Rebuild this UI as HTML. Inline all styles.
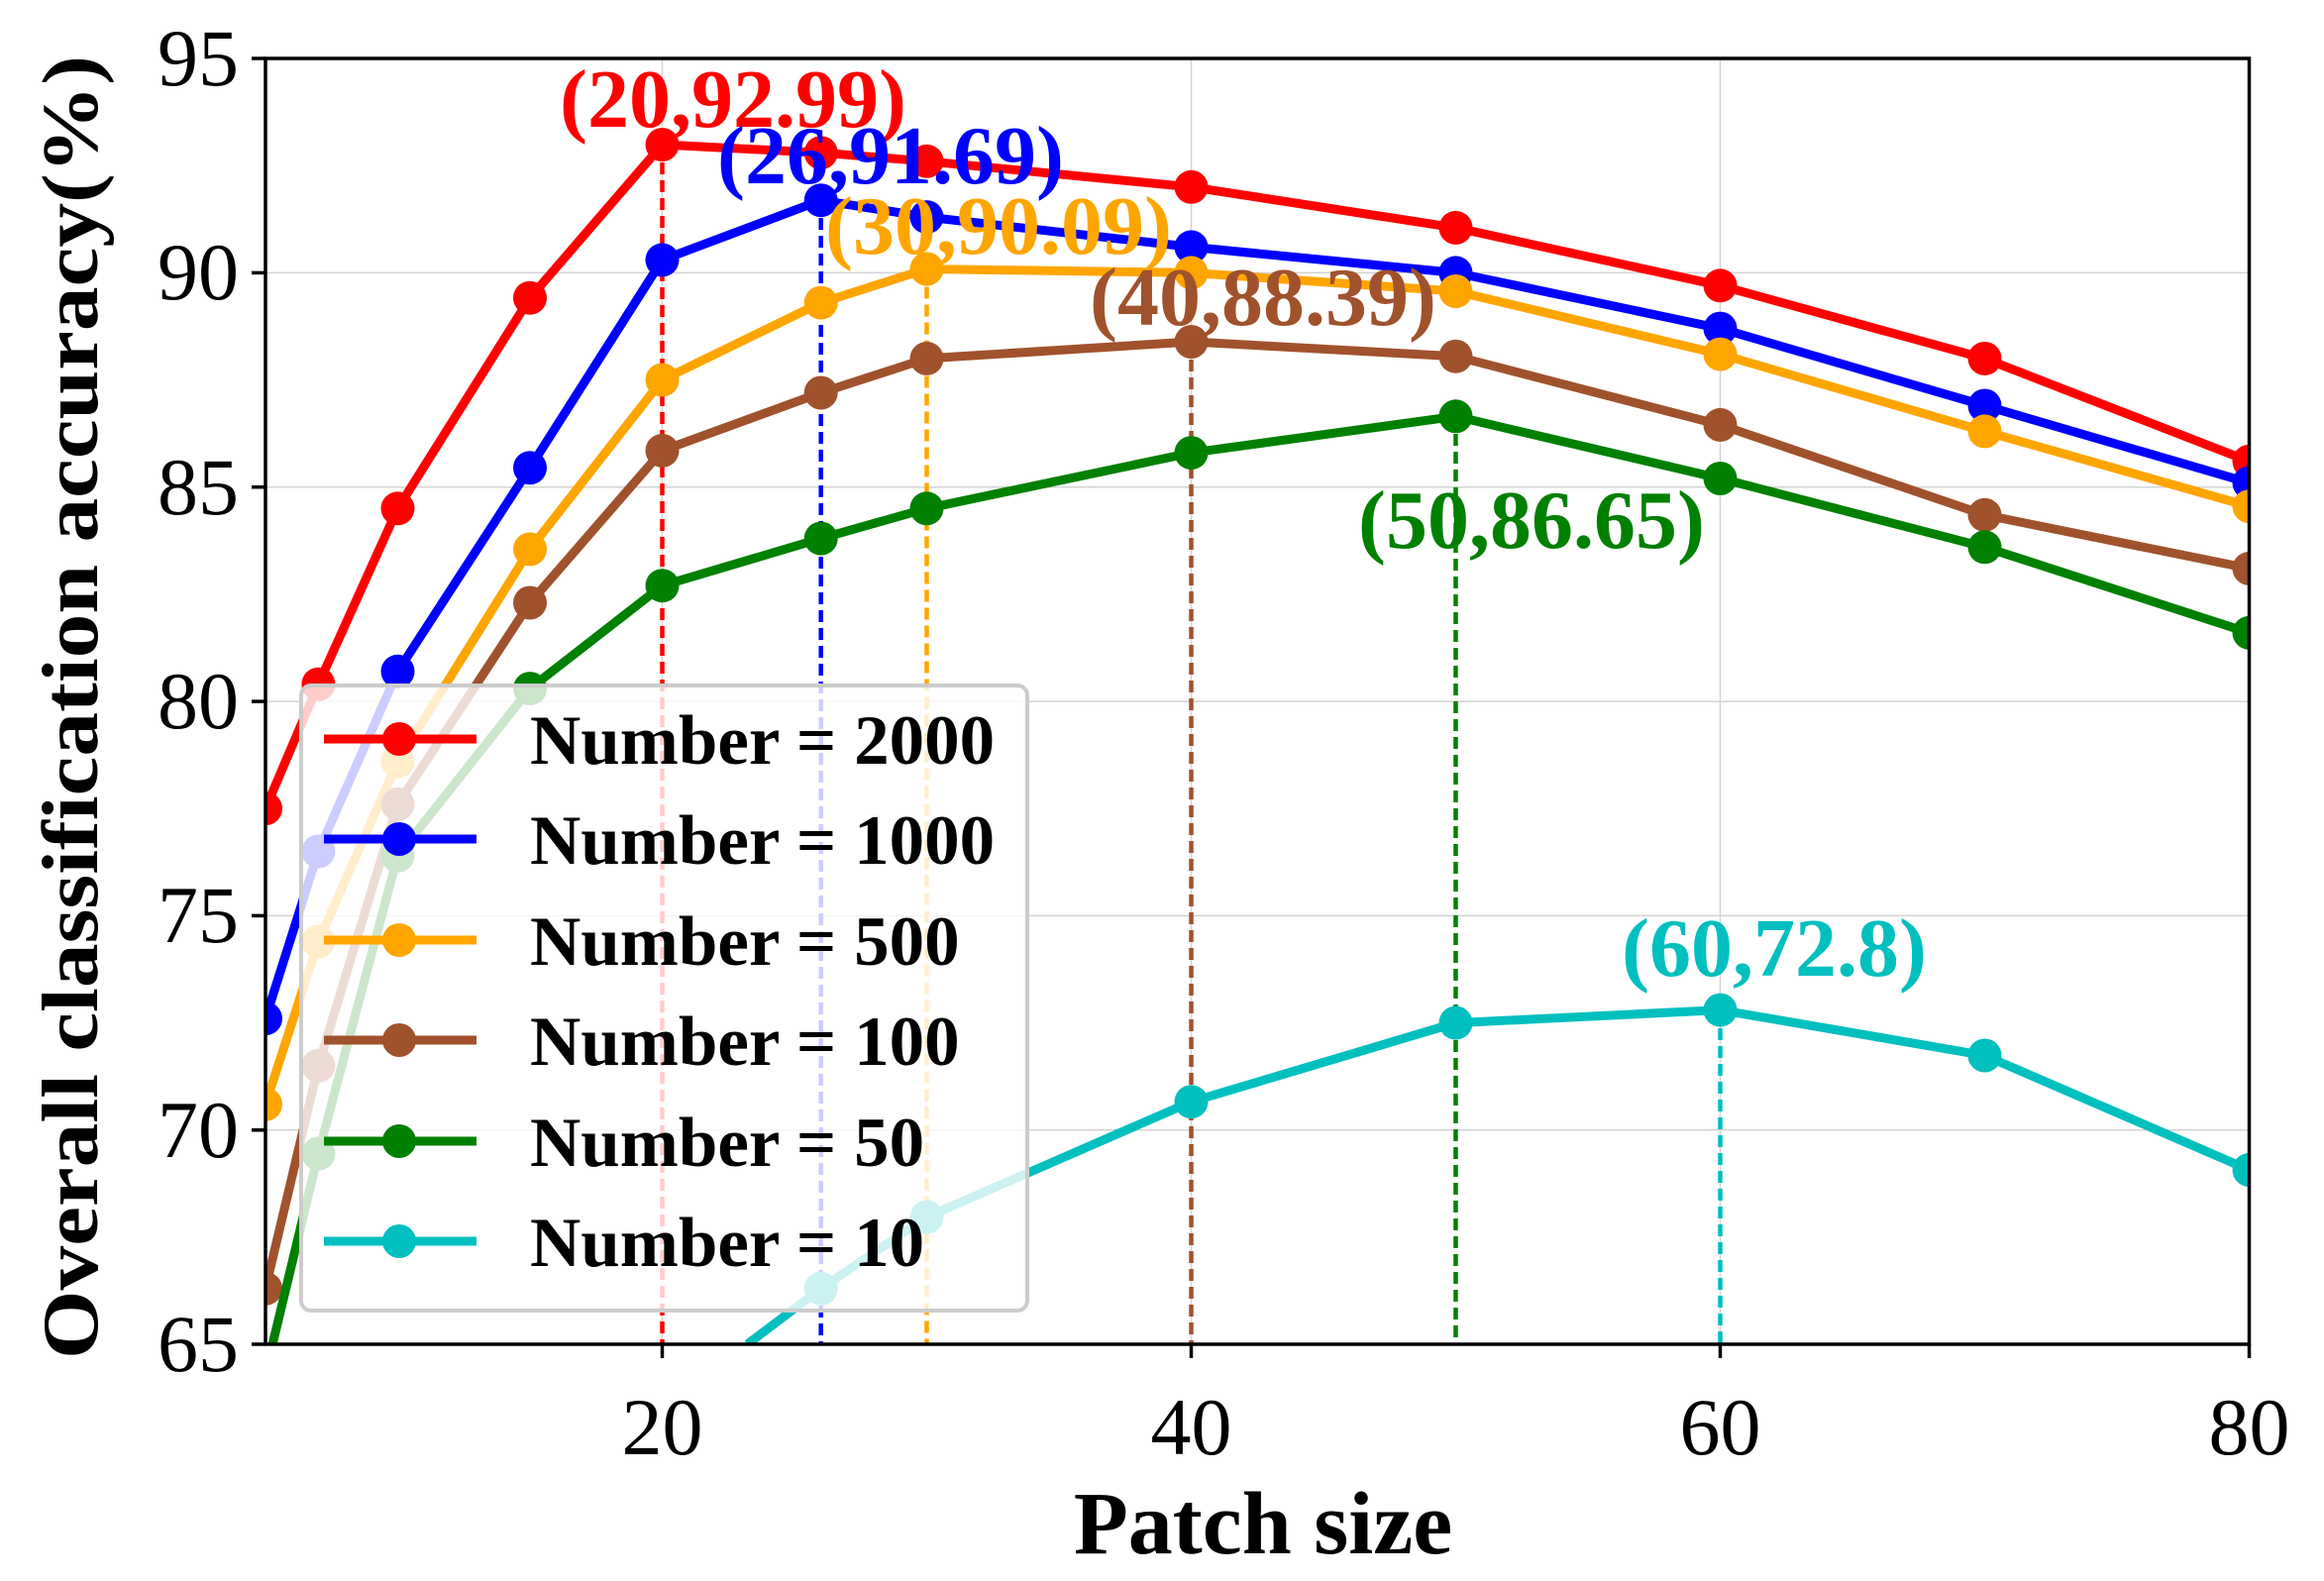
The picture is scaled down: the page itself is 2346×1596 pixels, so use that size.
<!DOCTYPE html>
<html><head><meta charset="utf-8"><style>html,body{margin:0;padding:0;background:#fff;overflow:hidden;width:2346px;height:1596px}svg{display:block}</style></head>
<body>
<svg width="2346" height="1596" viewBox="0 0 2346 1596" xmlns="http://www.w3.org/2000/svg" font-family="'Liberation Serif', serif">
<defs><clipPath id="c"><rect x="268" y="59" width="2002.5" height="1298"/></clipPath></defs>
<rect width="2346" height="1596" fill="#fff"/>
<g stroke="#d3d3d3" stroke-width="1.5">
<line x1="268" x2="2270.5" y1="275.4" y2="275.4"/><line x1="268" x2="2270.5" y1="491.7" y2="491.7"/><line x1="268" x2="2270.5" y1="708.1" y2="708.1"/><line x1="268" x2="2270.5" y1="924.4" y2="924.4"/><line x1="268" x2="2270.5" y1="1140.8" y2="1140.8"/>
<line y1="59" y2="1357" x1="668.5" x2="668.5"/><line y1="59" y2="1357" x1="1202.5" x2="1202.5"/><line y1="59" y2="1357" x1="1736.5" x2="1736.5"/>
</g>
<g stroke-width="4.5" stroke-dasharray="12,6" fill="none">
<line x1="668.5" x2="668.5" y1="146" y2="1357" stroke="red"/>
<line x1="828.7" x2="828.7" y1="202" y2="1357" stroke="blue"/>
<line x1="935.5" x2="935.5" y1="271.5" y2="1357" stroke="orange"/>
<line x1="1202.5" x2="1202.5" y1="345" y2="1357" stroke="#a0522d"/>
<line x1="1469.5" x2="1469.5" y1="420" y2="1357" stroke="green"/>
<line x1="1736.5" x2="1736.5" y1="1020" y2="1357" stroke="#00bfbf"/>
</g>
<g clip-path="url(#c)" fill="none" stroke-width="9" stroke-linejoin="round">
<g stroke="red" fill="red"><polyline fill="none" points="268,816.2 321.4,690.7 401.5,513.3 535,300.7 668.5,146 828.7,154.2 935.5,162.8 1202.5,188.8 1469.5,229.9 1736.5,288.3 2003.5,361.9 2270.5,465.7"/>
<g stroke="none"><circle cx="268" cy="816.2" r="17"/><circle cx="321.4" cy="690.7" r="17"/><circle cx="401.5" cy="513.3" r="17"/><circle cx="535" cy="300.7" r="17"/><circle cx="668.5" cy="146" r="17"/><circle cx="828.7" cy="154.2" r="17"/><circle cx="935.5" cy="162.8" r="17"/><circle cx="1202.5" cy="188.8" r="17"/><circle cx="1469.5" cy="229.9" r="17"/><circle cx="1736.5" cy="288.3" r="17"/><circle cx="2003.5" cy="361.9" r="17"/><circle cx="2270.5" cy="465.7" r="17"/></g></g>
<g stroke="blue" fill="blue"><polyline fill="none" points="268,1028.2 321.4,859.5 401.5,677.8 535,472.2 668.5,262.4 828.7,202.2 935.5,219.1 1202.5,249.4 1469.5,275.4 1736.5,331.6 2003.5,409.5 2270.5,487.4"/>
<g stroke="none"><circle cx="268" cy="1028.2" r="17"/><circle cx="321.4" cy="859.5" r="17"/><circle cx="401.5" cy="677.8" r="17"/><circle cx="535" cy="472.2" r="17"/><circle cx="668.5" cy="262.4" r="17"/><circle cx="828.7" cy="202.2" r="17"/><circle cx="935.5" cy="219.1" r="17"/><circle cx="1202.5" cy="249.4" r="17"/><circle cx="1469.5" cy="275.4" r="17"/><circle cx="1736.5" cy="331.6" r="17"/><circle cx="2003.5" cy="409.5" r="17"/><circle cx="2270.5" cy="487.4" r="17"/></g></g>
<g stroke="orange" fill="orange"><polyline fill="none" points="268,1114.8 321.4,950.4 401.5,768.6 535,554.4 668.5,383.5 828.7,305.6 935.5,271.5 1202.5,275.4 1469.5,294 1736.5,357.6 2003.5,435.4 2270.5,511.2"/>
<g stroke="none"><circle cx="268" cy="1114.8" r="17"/><circle cx="321.4" cy="950.4" r="17"/><circle cx="401.5" cy="768.6" r="17"/><circle cx="535" cy="554.4" r="17"/><circle cx="668.5" cy="383.5" r="17"/><circle cx="828.7" cy="305.6" r="17"/><circle cx="935.5" cy="271.5" r="17"/><circle cx="1202.5" cy="275.4" r="17"/><circle cx="1469.5" cy="294" r="17"/><circle cx="1736.5" cy="357.6" r="17"/><circle cx="2003.5" cy="435.4" r="17"/><circle cx="2270.5" cy="511.2" r="17"/></g></g>
<g stroke="#a0522d" fill="#a0522d"><polyline fill="none" points="268,1300.8 321.4,1075.8 401.5,811.9 535,608.5 668.5,454.9 828.7,396.5 935.5,361.9 1202.5,345 1469.5,359.7 1736.5,428.9 2003.5,519.8 2270.5,573.9"/>
<g stroke="none"><circle cx="268" cy="1300.8" r="17"/><circle cx="321.4" cy="1075.8" r="17"/><circle cx="401.5" cy="811.9" r="17"/><circle cx="535" cy="608.5" r="17"/><circle cx="668.5" cy="454.9" r="17"/><circle cx="828.7" cy="396.5" r="17"/><circle cx="935.5" cy="361.9" r="17"/><circle cx="1202.5" cy="345" r="17"/><circle cx="1469.5" cy="359.7" r="17"/><circle cx="1736.5" cy="428.9" r="17"/><circle cx="2003.5" cy="519.8" r="17"/><circle cx="2270.5" cy="573.9" r="17"/></g></g>
<g stroke="green" fill="green"><polyline fill="none" points="275.1,1357 321.4,1164.6 401.5,863.8 535,695.1 668.5,591.2 828.7,543.6 935.5,513.3 1202.5,457.1 1469.5,420.3 1736.5,483 2003.5,552.3 2270.5,638.8"/>
<g stroke="none"><circle cx="321.4" cy="1164.6" r="17"/><circle cx="401.5" cy="863.8" r="17"/><circle cx="535" cy="695.1" r="17"/><circle cx="668.5" cy="591.2" r="17"/><circle cx="828.7" cy="543.6" r="17"/><circle cx="935.5" cy="513.3" r="17"/><circle cx="1202.5" cy="457.1" r="17"/><circle cx="1469.5" cy="420.3" r="17"/><circle cx="1736.5" cy="483" r="17"/><circle cx="2003.5" cy="552.3" r="17"/><circle cx="2270.5" cy="638.8" r="17"/></g></g>
<g stroke="#00bfbf" fill="#00bfbf"><polyline fill="none" points="754.4,1357 828.7,1300.8 935.5,1228.6 1202.5,1112.2 1469.5,1032.6 1736.5,1019.6 2003.5,1065.5 2270.5,1181"/>
<g stroke="none"><circle cx="828.7" cy="1300.8" r="17"/><circle cx="935.5" cy="1228.6" r="17"/><circle cx="1202.5" cy="1112.2" r="17"/><circle cx="1469.5" cy="1032.6" r="17"/><circle cx="1736.5" cy="1019.6" r="17"/><circle cx="2003.5" cy="1065.5" r="17"/><circle cx="2270.5" cy="1181" r="17"/></g></g>
</g>
<g font-weight="bold" font-size="84" text-anchor="middle">
<text x="740" y="128" fill="red">(20,92.99)</text>
<text x="899" y="185" fill="blue">(26,91.69)</text>
<text x="1008" y="256" fill="orange">(30,90.09)</text>
<text x="1275" y="328" fill="#a0522d">(40,88.39)</text>
<text x="1546" y="553" fill="green">(50,86.65)</text>
<text x="1791" y="985" fill="#00bfbf">(60,72.8)</text>
</g>
<rect x="304" y="692" width="733" height="631" rx="10" fill="#fff" fill-opacity="0.8" stroke="#cccccc" stroke-width="4"/>
<g stroke-width="9">
<line x1="327" x2="481" y1="746" y2="746" stroke="red"/><circle cx="403" cy="746" r="17" fill="red"/>
<line x1="327" x2="481" y1="847" y2="847" stroke="blue"/><circle cx="403" cy="847" r="17" fill="blue"/>
<line x1="327" x2="481" y1="949" y2="949" stroke="orange"/><circle cx="403" cy="949" r="17" fill="orange"/>
<line x1="327" x2="481" y1="1050" y2="1050" stroke="#a0522d"/><circle cx="403" cy="1050" r="17" fill="#a0522d"/>
<line x1="327" x2="481" y1="1152" y2="1152" stroke="green"/><circle cx="403" cy="1152" r="17" fill="green"/>
<line x1="327" x2="481" y1="1253" y2="1253" stroke="#00bfbf"/><circle cx="403" cy="1253" r="17" fill="#00bfbf"/>
</g>
<g font-weight="bold" font-size="71" fill="#000">
<text x="535" y="771">Number = 2000</text>
<text x="535" y="872">Number = 1000</text>
<text x="535" y="974">Number = 500</text>
<text x="535" y="1075">Number = 100</text>
<text x="535" y="1177">Number = 50</text>
<text x="535" y="1278">Number = 10</text>
</g>
<rect x="268" y="59" width="2002.5" height="1298" fill="none" stroke="#000" stroke-width="3.5"/>
<g stroke="#000" stroke-width="3.5">
<line x1="668.5" x2="668.5" y1="1357" y2="1371"/><line x1="1202.5" x2="1202.5" y1="1357" y2="1371"/><line x1="1736.5" x2="1736.5" y1="1357" y2="1371"/><line x1="2270.5" x2="2270.5" y1="1357" y2="1371"/>
<line x1="254" x2="268" y1="59" y2="59"/><line x1="254" x2="268" y1="275.4" y2="275.4"/><line x1="254" x2="268" y1="491.7" y2="491.7"/><line x1="254" x2="268" y1="708.1" y2="708.1"/><line x1="254" x2="268" y1="924.4" y2="924.4"/><line x1="254" x2="268" y1="1140.8" y2="1140.8"/><line x1="254" x2="268" y1="1357" y2="1357"/>
</g>
<g font-size="82" fill="#000" text-anchor="middle">
<text x="668.5" y="1468">20</text><text x="1202.5" y="1468">40</text><text x="1736.5" y="1468">60</text><text x="2270.5" y="1468">80</text>
</g>
<g font-size="82" fill="#000" text-anchor="end">
<text x="241" y="86">95</text><text x="241" y="302">90</text><text x="241" y="519">85</text><text x="241" y="735">80</text><text x="241" y="951">75</text><text x="241" y="1168">70</text><text x="241" y="1384">65</text>
</g>
<text x="1275" y="1568" font-size="90" font-weight="bold" text-anchor="middle">Patch size</text>
<text transform="translate(98,714) rotate(-90)" font-size="80" font-weight="bold" text-anchor="middle" textLength="1316" lengthAdjust="spacingAndGlyphs">Overall classification accuracy(%)</text>
</svg>
</body></html>
